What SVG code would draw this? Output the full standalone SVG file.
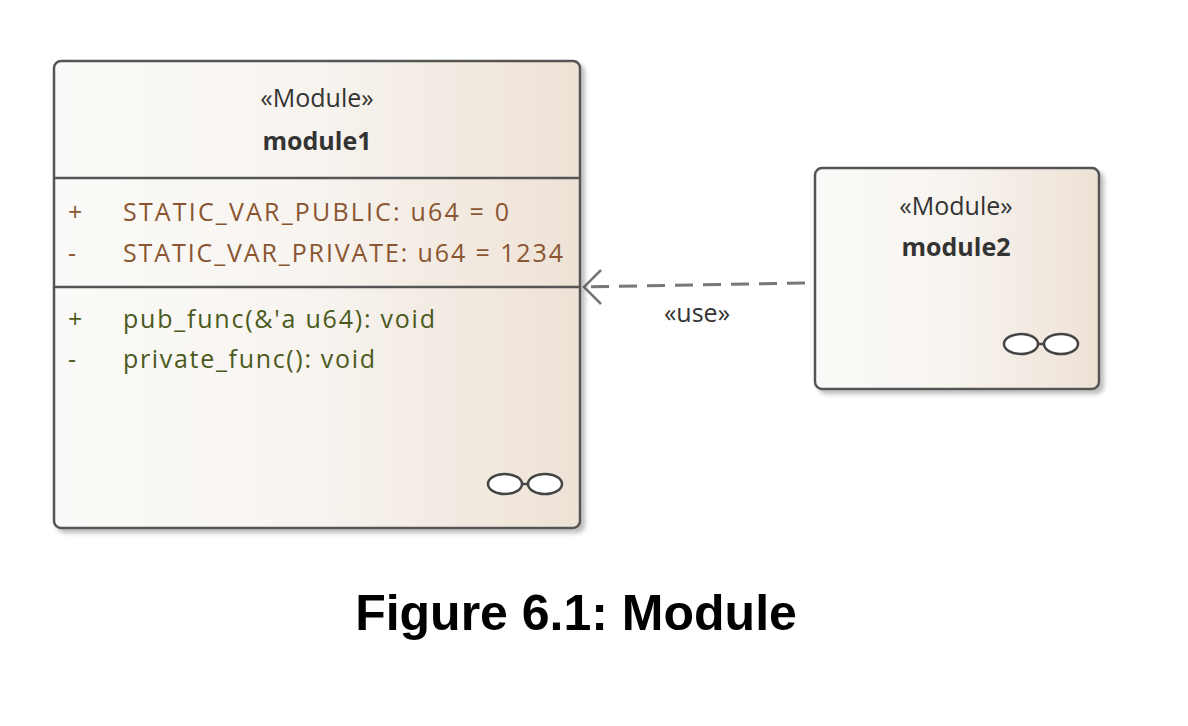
<svg xmlns="http://www.w3.org/2000/svg" width="1188" height="726" viewBox="0 0 1188 726">
<defs>
<linearGradient id="g" x1="0" x2="1" y1="0" y2="0"><stop offset="0" stop-color="#fbfaf8"/><stop offset="0.45" stop-color="#f8f5f1"/><stop offset="1" stop-color="#eee2d6"/></linearGradient>
<filter id="sh" x="-5%" y="-5%" width="115%" height="115%"><feDropShadow dx="4" dy="4" stdDeviation="2" flood-color="#000" flood-opacity="0.25"/></filter>
</defs>
<style>
.box{fill:url(#g);stroke:#555;stroke-width:2.5}
.t{font-family:"Open Sans","Liberation Sans",sans-serif;font-size:25px}
.c{text-anchor:middle;fill:#333}
.b{font-weight:bold}
.attr{fill:#8a5530}
.op{fill:#4b5a1c}
.icon{fill:#fff;stroke:#444;stroke-width:2.5}
</style>
<rect width="1188" height="726" fill="#fff"/>
<g id="connectors">
<line x1="805" y1="283" x2="584" y2="287" stroke="#777" stroke-width="3" stroke-dasharray="18,10"/>
<polyline points="601,270 584,287 601,304" fill="none" stroke="#777" stroke-width="2.5"/>
<text class="t c" x="697" y="322" font-size="22">«use»</text>
</g>
<g id="module1">
<rect class="box" x="54" y="61" width="526" height="467" rx="7" filter="url(#sh)"/>
<line x1="54" y1="178" x2="580" y2="178" stroke="#555" stroke-width="2.5"/>
<line x1="54" y1="287" x2="580" y2="287" stroke="#555" stroke-width="2.5"/>
<text class="t c" x="317" y="107">«Module»</text>
<text class="t c b" x="317" y="150">module1</text>
<text class="t attr" x="68" y="221">+</text>
<text class="t attr" x="123" y="221" textLength="386">STATIC_VAR_PUBLIC: u64 = 0</text>
<text class="t attr" x="68" y="262">-</text>
<text class="t attr" x="123" y="262" textLength="440">STATIC_VAR_PRIVATE: u64 = 1234</text>
<text class="t op" x="68" y="328">+</text>
<text class="t op" x="123" y="328" textLength="312">pub_func(&amp;'a u64): void</text>
<text class="t op" x="68" y="368">-</text>
<text class="t op" x="123" y="368" textLength="252">private_func(): void</text>
<ellipse class="icon" cx="505" cy="484" rx="17" ry="10"/>
<ellipse class="icon" cx="545" cy="484" rx="17" ry="10"/>
<line x1="522" y1="484" x2="528" y2="484" stroke="#444" stroke-width="2.5"/>
</g>
<g id="module2">
<rect class="box" x="815" y="168" width="284" height="221" rx="7" filter="url(#sh)"/>
<text class="t c" x="956" y="215">«Module»</text>
<text class="t c b" x="956" y="256">module2</text>
<ellipse class="icon" cx="1021" cy="344" rx="17" ry="10"/>
<ellipse class="icon" cx="1061" cy="344" rx="17" ry="10"/>
<line x1="1038" y1="344" x2="1044" y2="344" stroke="#444" stroke-width="2.5"/>
</g>
<text x="576" y="630" text-anchor="middle" font-family="Liberation Sans,Arial,sans-serif" font-weight="bold" font-size="50" fill="#000">Figure 6.1: Module</text>
</svg>
